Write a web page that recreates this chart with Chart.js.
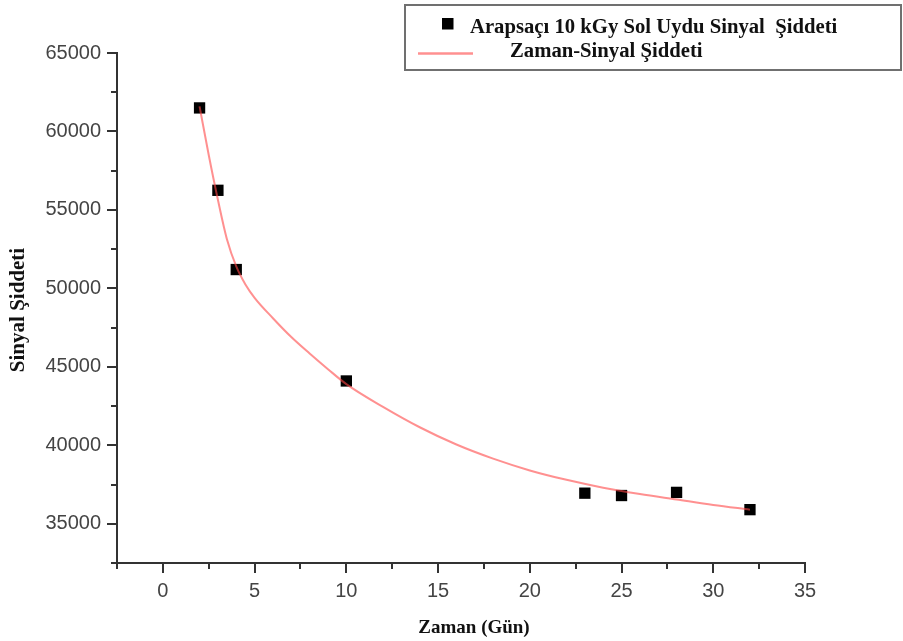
<!DOCTYPE html>
<html lang="tr">
<head>
<meta charset="utf-8">
<title>Zaman - Sinyal Şiddeti</title>
<script src="https://cdn.jsdelivr.net/npm/chart.js@4.4.1/dist/chart.umd.min.js"></script>
<style>
  html, body { margin: 0; padding: 0; background: #fff; }
  #myChart { display: block; }
</style>
</head>
<body>
<canvas id="myChart" width="903" height="641"></canvas>
<script>
// measured signal (days / intensity)
var zaman = [2, 3, 4, 10, 23, 25, 28, 32];
var sinyal = [61500, 56250, 51200, 44100, 36950, 36800, 37000, 35900];

// fitted decay curve
var egriZaman = [2, 2.5, 3, 3.5, 4, 4.5, 5, 6, 7, 8, 9, 10, 12, 14, 16, 18, 20, 22, 24, 26, 28, 30, 32];
var egriSinyal = [61600, 58500, 55650, 53100, 51400, 50250, 49400, 48100, 46900, 45850, 44850, 43900,
                  42450, 41150, 40050, 39150, 38400, 37800, 37300, 36900, 36550, 36200, 35900];

// axis ticks
var xTicks = [0, 5, 10, 15, 20, 25, 30, 35];
var xMinor = [-2.5, 2.5, 7.5, 12.5, 17.5, 22.5, 27.5, 32.5];
var yTicks = [35000, 40000, 45000, 50000, 55000, 60000, 65000];
var yMinor = [32500, 37500, 42500, 47500, 52500, 57500, 62500];

var seriesLabels = ['Arapsaçı 10 kGy Sol Uydu Sinyal  Şiddeti', 'Zaman-Sinyal Şiddeti'];
var xTitle = 'Zaman (Gün)';
var yTitle = 'Sinyal Şiddeti';

var axisColor = '#333';
var curveColor = 'rgba(255, 70, 70, 0.6)';
var serif = '"Liberation Serif", "Times New Roman", serif';
var sans = '"Liberation Sans", Arial, sans-serif';

// short minor ticks between the labelled ones
var minorTicks = {
    id: 'minorTicks',
    afterDraw: function(chart) {
        var ctx = chart.ctx, area = chart.chartArea;
        var xs = chart.scales.x, ys = chart.scales.y;
        ctx.save();
        ctx.strokeStyle = axisColor;
        ctx.lineWidth = 2;
        ctx.beginPath();
        xMinor.forEach(function(v) {
            var px = Math.round(xs.getPixelForValue(v));
            ctx.moveTo(px, area.bottom);
            ctx.lineTo(px, area.bottom + 6);
        });
        yMinor.forEach(function(v) {
            var py = Math.round(ys.getPixelForValue(v));
            ctx.moveTo(area.left, py);
            ctx.lineTo(area.left - 6, py);
        });
        ctx.stroke();
        ctx.restore();
    }
};

// axis titles and the boxed legend
var titlesAndLegend = {
    id: 'titlesAndLegend',
    afterDraw: function(chart) {
        var ctx = chart.ctx, area = chart.chartArea;
        ctx.save();
        ctx.fillStyle = '#111';
        ctx.font = 'bold 19px ' + serif;
        ctx.textAlign = 'center';
        ctx.textBaseline = 'alphabetic';
        ctx.fillText(xTitle, 474, 633);

        ctx.save();
        ctx.translate(19, (area.top + area.bottom) / 2 + 2);
        ctx.rotate(-Math.PI / 2);
        ctx.font = 'bold 21px ' + serif;
        ctx.textBaseline = 'middle';
        ctx.fillText(yTitle, 0, 0);
        ctx.restore();

        // legend box
        ctx.strokeStyle = '#707070';
        ctx.lineWidth = 2;
        ctx.strokeRect(405, 5, 496, 65);

        ctx.fillStyle = '#000';
        ctx.fillRect(442, 18, 11.5, 11.5);
        ctx.strokeStyle = curveColor;
        ctx.lineWidth = 2.5;
        ctx.beginPath();
        ctx.moveTo(418, 53.5);
        ctx.lineTo(473, 53.5);
        ctx.stroke();

        ctx.fillStyle = '#111';
        ctx.font = 'bold 20.7px ' + serif;
        ctx.textAlign = 'left';
        ctx.fillText(chart.data.datasets[1].label, 470, 33);
        ctx.fillText(chart.data.datasets[0].label, 510, 57);
        ctx.restore();
    }
};

function plainNumber(value) {
    return String(value);
}

var ctx = document.getElementById('myChart').getContext('2d');
var chart = new Chart(ctx, {
    type: 'scatter',
    data: {
        datasets: [{
            label: seriesLabels[1],
            type: 'line',
            data: egriZaman.map(function(x, i) { return { x: x, y: egriSinyal[i] }; }),
            borderColor: curveColor,
            borderWidth: 2,
            pointRadius: 0,
            fill: false,
            cubicInterpolationMode: 'monotone',
            order: 0
        }, {
            label: seriesLabels[0],
            data: zaman.map(function(x, i) { return { x: x, y: sinyal[i] }; }),
            pointStyle: 'rect',
            pointRadius: 8,
            backgroundColor: '#000',
            borderColor: '#000',
            borderWidth: 0,
            order: 1
        }]
    },
    options: {
        responsive: false,
        animation: false,
        devicePixelRatio: 1,
        layout: { padding: { top: 53, right: 98, bottom: 0, left: 0 } },
        plugins: { legend: { display: false }, tooltip: { enabled: false } },
        scales: {
            x: {
                type: 'linear',
                min: -2.5,
                max: 35,
                afterBuildTicks: function(s) { s.ticks = xTicks.map(function(v) { return { value: v }; }); },
                afterFit: function(s) { s.height = 78; },
                border: { color: axisColor, width: 2 },
                grid: { drawOnChartArea: false, color: axisColor, lineWidth: 2, tickLength: 10 },
                ticks: { color: '#444', padding: 6, maxRotation: 0, callback: plainNumber,
                         font: { family: sans, size: 20 } }
            },
            y: {
                min: 32500,
                max: 65000,
                afterBuildTicks: function(s) { s.ticks = yTicks.map(function(v) { return { value: v }; }); },
                afterFit: function(s) { s.width = 117; },
                border: { color: axisColor, width: 2 },
                grid: { drawOnChartArea: false, color: axisColor, lineWidth: 2, tickLength: 10 },
                ticks: { color: '#444', padding: 6, callback: plainNumber,
                         font: { family: sans, size: 20 } }
            }
        }
    },
    plugins: [minorTicks, titlesAndLegend]
});
</script>
</body>
</html>
